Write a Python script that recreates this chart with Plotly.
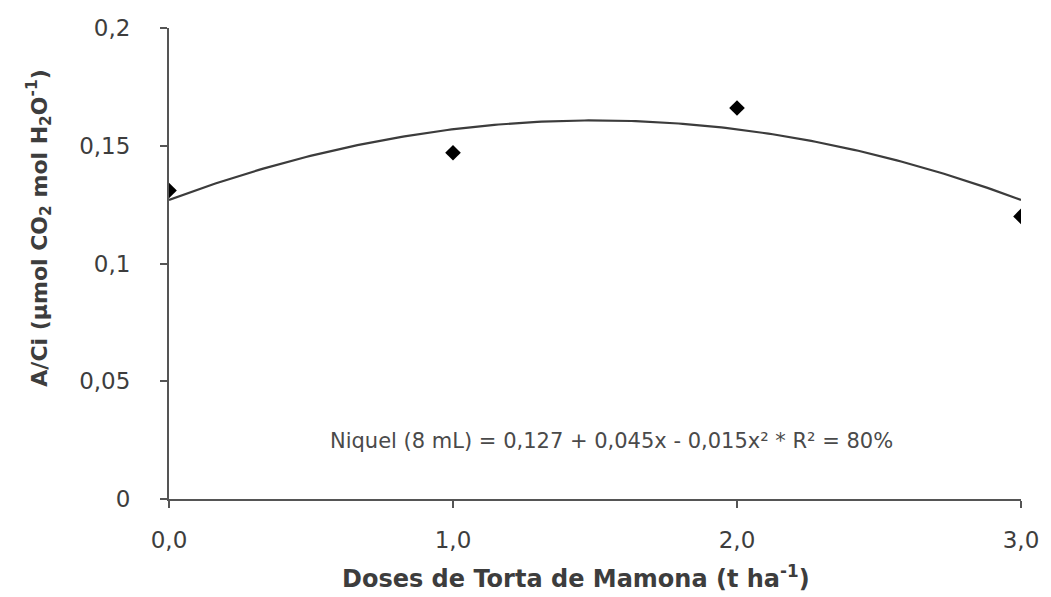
import numpy as np
import plotly.graph_objects as go

# Observed means
doses = [0.0, 1.0, 2.0, 3.0]
a_ci = [0.131, 0.147, 0.166, 0.120]

# Quadratic fit coefficients (y = b0 + b1*x + b2*x^2)
b0, b1, b2 = 0.127, 0.045, -0.015

y_ticks = [0, 0.05, 0.1, 0.15, 0.2]
x_ticks = [0.0, 1.0, 2.0, 3.0]

xf = np.linspace(0, 3, 200)
yf = b0 + b1 * xf + b2 * xf ** 2

font_family = "'DejaVu Sans', sans-serif"
ink = "#3d3d3d"
axis_col = "#555555"

fig = go.Figure()
fig.add_trace(go.Scatter(x=xf, y=yf, mode="lines",
                         line=dict(color="#3c3c3c", width=2.2),
                         showlegend=False, hoverinfo="skip"))
fig.add_trace(go.Scatter(x=doses, y=a_ci, mode="markers",
                         marker=dict(symbol="diamond", size=12, color="black"),
                         showlegend=False))

fig.update_layout(
    width=1051, height=597,
    margin=dict(l=169, r=28, t=28, b=98),
    plot_bgcolor="white", paper_bgcolor="white",
    separators=",.",
    font=dict(family=font_family, color=ink, size=20),
    xaxis=dict(range=[0, 3], tickvals=x_ticks, tickformat=".1f",
               showgrid=False, zeroline=False, showline=True,
               linecolor=axis_col, linewidth=2,
               ticks="outside", ticklen=7, tickwidth=2, tickcolor=axis_col,
               ticklabelstandoff=12,
               tickfont=dict(size=23, color=ink), fixedrange=True),
    yaxis=dict(range=[0, 0.2], tickvals=y_ticks,
               showgrid=False, zeroline=False, showline=True,
               linecolor=axis_col, linewidth=2,
               ticks="outside", ticklen=7, tickwidth=2, tickcolor=axis_col,
               ticklabelstandoff=25,
               tickfont=dict(size=23, color=ink), fixedrange=True),
)

fig.add_annotation(
    text="<b>Doses de Torta de Mamona (t ha<sup>-1</sup>)</b>",
    xref="paper", yref="paper", x=0.478, y=-0.128,
    xanchor="center", yanchor="top", showarrow=False,
    font=dict(size=24, color=ink))

fig.add_annotation(
    text="<b>A/Ci (µmol CO<sub>2</sub> mol H<sub>2</sub>O<sup>-1</sup>)</b>",
    xref="paper", yref="paper", x=-0.152, y=0.575,
    xanchor="center", yanchor="middle", textangle=-90, showarrow=False,
    font=dict(size=22, color=ink))

fig.add_annotation(
    text="Niquel (8 mL) = 0,127 + 0,045x - 0,015x² * R² = 80%",
    xref="x", yref="y", x=1.558, y=0.0245,
    xanchor="center", yanchor="middle", showarrow=False,
    font=dict(size=21, color="#4a4a4a"))

fig.write_html("out.html")
